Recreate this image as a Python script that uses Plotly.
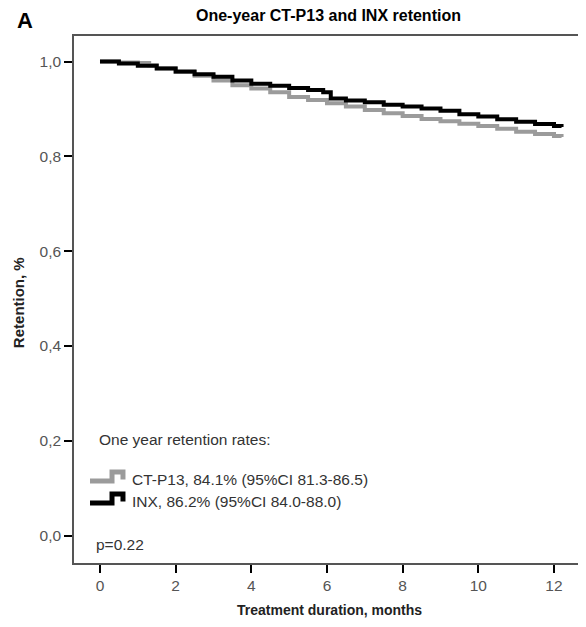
import plotly.graph_objects as go

# Kaplan-Meier style retention data
inx_t = [0, 0.5, 1.0, 1.5, 2.0, 2.5, 3.0, 3.5, 4.0, 4.5, 5.0, 5.5, 5.9, 6.1, 6.5,
         7.0, 7.5, 8.0, 8.5, 9.0, 9.5, 10.0, 10.5, 11.0, 11.5, 12.0, 12.2]
inx_s = [1.0, 0.996, 0.991, 0.985, 0.979, 0.973, 0.968, 0.960, 0.953, 0.949, 0.944,
         0.940, 0.935, 0.922, 0.918, 0.914, 0.909, 0.905, 0.901, 0.896, 0.889, 0.884,
         0.878, 0.873, 0.868, 0.864, 0.862]

ctp_t = [0, 0.5, 1.0, 1.3, 1.5, 2.0, 2.5, 3.0, 3.5, 4.0, 4.5, 5.0, 5.5, 6.0, 6.5,
         7.0, 7.5, 8.0, 8.5, 9.0, 9.5, 10.0, 10.5, 11.0, 11.5, 12.0, 12.2]
ctp_s = [1.0, 0.998, 0.997, 0.992, 0.986, 0.978, 0.970, 0.960, 0.950, 0.943, 0.935,
         0.925, 0.919, 0.912, 0.905, 0.898, 0.891, 0.885, 0.879, 0.874, 0.869, 0.864,
         0.858, 0.852, 0.847, 0.843, 0.841]

x_ticks = [0, 2, 4, 6, 8, 10, 12]
y_ticks = [0.0, 0.2, 0.4, 0.6, 0.8, 1.0]

title_text = "One-year CT-P13 and INX retention"
legend_title = "One year retention rates:"
ctp_label = "CT-P13, 84.1% (95%CI 81.3-86.5)"
inx_label = "INX, 86.2% (95%CI 84.0-88.0)"
p_text = "p=0.22"

GRAY = "#9b9b9b"
FONT = "Liberation Sans, Arial, sans-serif"

fig = go.Figure()
fig.add_trace(go.Scatter(x=ctp_t, y=ctp_s, mode="lines", line=dict(color=GRAY, width=4, shape="hv"),
                         showlegend=False, hoverinfo="skip"))
fig.add_trace(go.Scatter(x=inx_t, y=inx_s, mode="lines", line=dict(color="black", width=4, shape="hv"),
                         showlegend=False, hoverinfo="skip"))

fig.update_layout(
    width=586, height=627,
    margin=dict(l=66, r=0, t=28, b=72),
    paper_bgcolor="white", plot_bgcolor="white",
    separators=",.",
    font=dict(family=FONT, color="#333333"),
    xaxis=dict(range=[-0.687, 13.058], tickvals=x_ticks, showgrid=False, zeroline=False,
               showline=True, linecolor="#555555", linewidth=1.5, mirror=True,
               ticks="outside", ticklen=8, tickwidth=2, tickcolor="black",
               tickfont=dict(size=15.5, color="#555555", family=FONT)),
    yaxis=dict(range=[-0.0576, 1.0538], tickvals=y_ticks, tickformat=".1f", showgrid=False,
               zeroline=False, showline=True, linecolor="#555555", linewidth=1.5,
               ticks="outside", ticklen=8, tickwidth=2, tickcolor="black",
               tickfont=dict(size=15.5, color="#555555", family=FONT)),
)

def ann(text, x, y, size, bold=False, xanchor="left", color="#333333", angle=0):
    fig.add_annotation(text=f"<b>{text}</b>" if bold else text, x=x, y=y, xref="paper", yref="paper",
                       xanchor=xanchor, yanchor="middle", showarrow=False, textangle=angle,
                       font=dict(size=size, color=color, family=FONT))

ann(title_text, 0.490, 1.038, 16, bold=True, xanchor="center", color="black")
ann("A", -0.0942, 1.0285, 22, bold=True, xanchor="center", color="black")
ann("Retention, %", -0.1077, 0.495, 15, bold=True, xanchor="center", color="#222222", angle=-90)
ann("Treatment duration, months", 0.492, -0.0892, 14, bold=True, xanchor="center", color="#222222")
ann(legend_title, 0.0442, 0.2334, 15.5)
ann(ctp_label, 0.1077, 0.1575, 15.5)
ann(inx_label, 0.1077, 0.1176, 15.5)
ann(p_text, 0.0385, 0.0342, 15.5)

# step-shaped legend glyphs
def glyph(y_low, y_high, color):
    path = (f"M 0.0308 {y_low} L 0.0731 {y_low} L 0.0731 {y_high} "
            f"L 0.0942 {y_high} L 0.0942 {y_low + 0.003}")
    fig.add_shape(type="path", path=path, xref="paper", yref="paper",
                  line=dict(color=color, width=5))

glyph(0.1556, 0.1727, GRAY)
glyph(0.1139, 0.1309, "black")

fig.write_html("out.html")
